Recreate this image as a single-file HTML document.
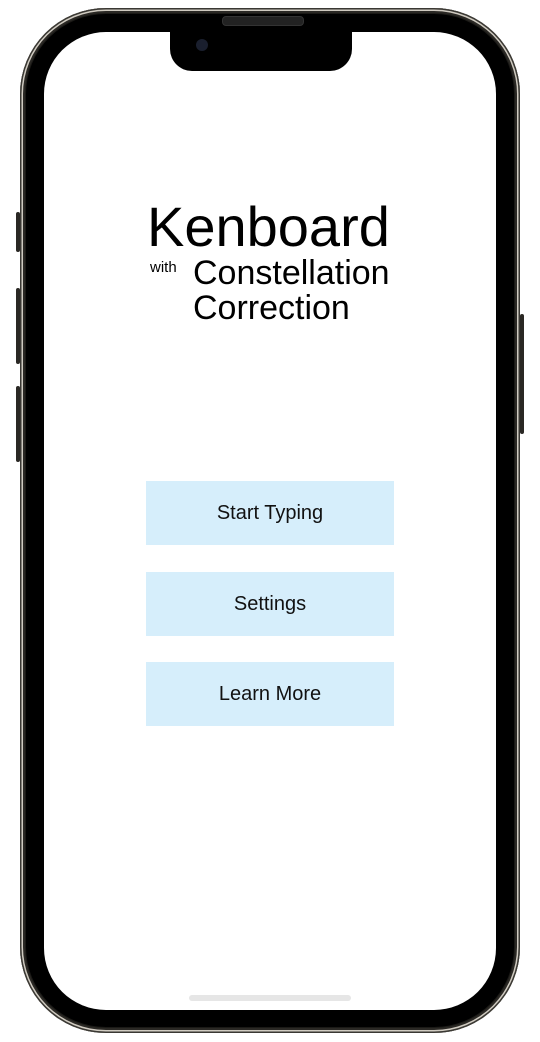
<!DOCTYPE html>
<html><head><style>
html,body{margin:0;padding:0;background:#fff;}
body{width:540px;height:1042px;position:relative;overflow:hidden;font-family:"Liberation Sans",Arial,sans-serif;}
.phone{position:absolute;left:20px;top:8px;width:500px;height:1025px;border-radius:86px;background:#1a1916;box-shadow:inset 0 0 0 1.5px #3a3833,inset 0 0 0 3px #cfcac0,inset 0 0 0 5px #2a2824;}
.bezel{position:absolute;left:26px;top:14px;width:488px;height:1013px;border-radius:80px;background:#000;}
.screen{position:absolute;left:44px;top:32px;width:452px;height:978px;border-radius:62px;background:#fff;overflow:hidden;}
.notch{position:absolute;left:170px;top:30px;width:182px;height:41px;background:#000;border-radius:0 0 22px 22px;}
.spk{position:absolute;left:222px;top:16px;width:80px;height:8px;border-radius:4px;background:#222;border:1px solid #333;}
.cam{position:absolute;left:196px;top:39px;width:12px;height:12px;border-radius:50%;background:#1a1f2e;}
.btn{position:absolute;left:146px;width:248px;height:64px;background:#d6eefb;text-align:center;line-height:64px;font-size:20px;color:#111;}
.side{position:absolute;background:#2a2824;width:4px;border-radius:2px;}
.t{position:absolute;color:#000;white-space:nowrap;}
.home{position:absolute;left:189px;top:995px;width:162px;height:6px;border-radius:3px;background:#e6e6e6;}
</style></head><body>
<div class="side" style="left:16px;top:212px;height:40px"></div>
<div class="side" style="left:16px;top:288px;height:76px"></div>
<div class="side" style="left:16px;top:386px;height:76px"></div>
<div class="side" style="left:520px;top:314px;height:120px"></div>
<div class="phone"></div>
<div class="bezel"></div>
<div class="screen"></div>
<div class="notch"></div>
<div class="spk"></div>
<div class="cam"></div>
<div class="t" style="left:147px;top:195px;font-size:56px;line-height:64px;">Kenboard</div>
<div class="t" style="left:150px;top:259px;font-size:15px;line-height:18px;">with</div>
<div class="t" style="left:193px;top:254px;font-size:34px;line-height:38px;">Constellation</div>
<div class="t" style="left:193px;top:289px;font-size:34px;line-height:38px;">Correction</div>
<div class="btn" style="top:481px">Start Typing</div>
<div class="btn" style="top:572px">Settings</div>
<div class="btn" style="top:662px">Learn More</div>
<div class="home"></div>
</body></html>
